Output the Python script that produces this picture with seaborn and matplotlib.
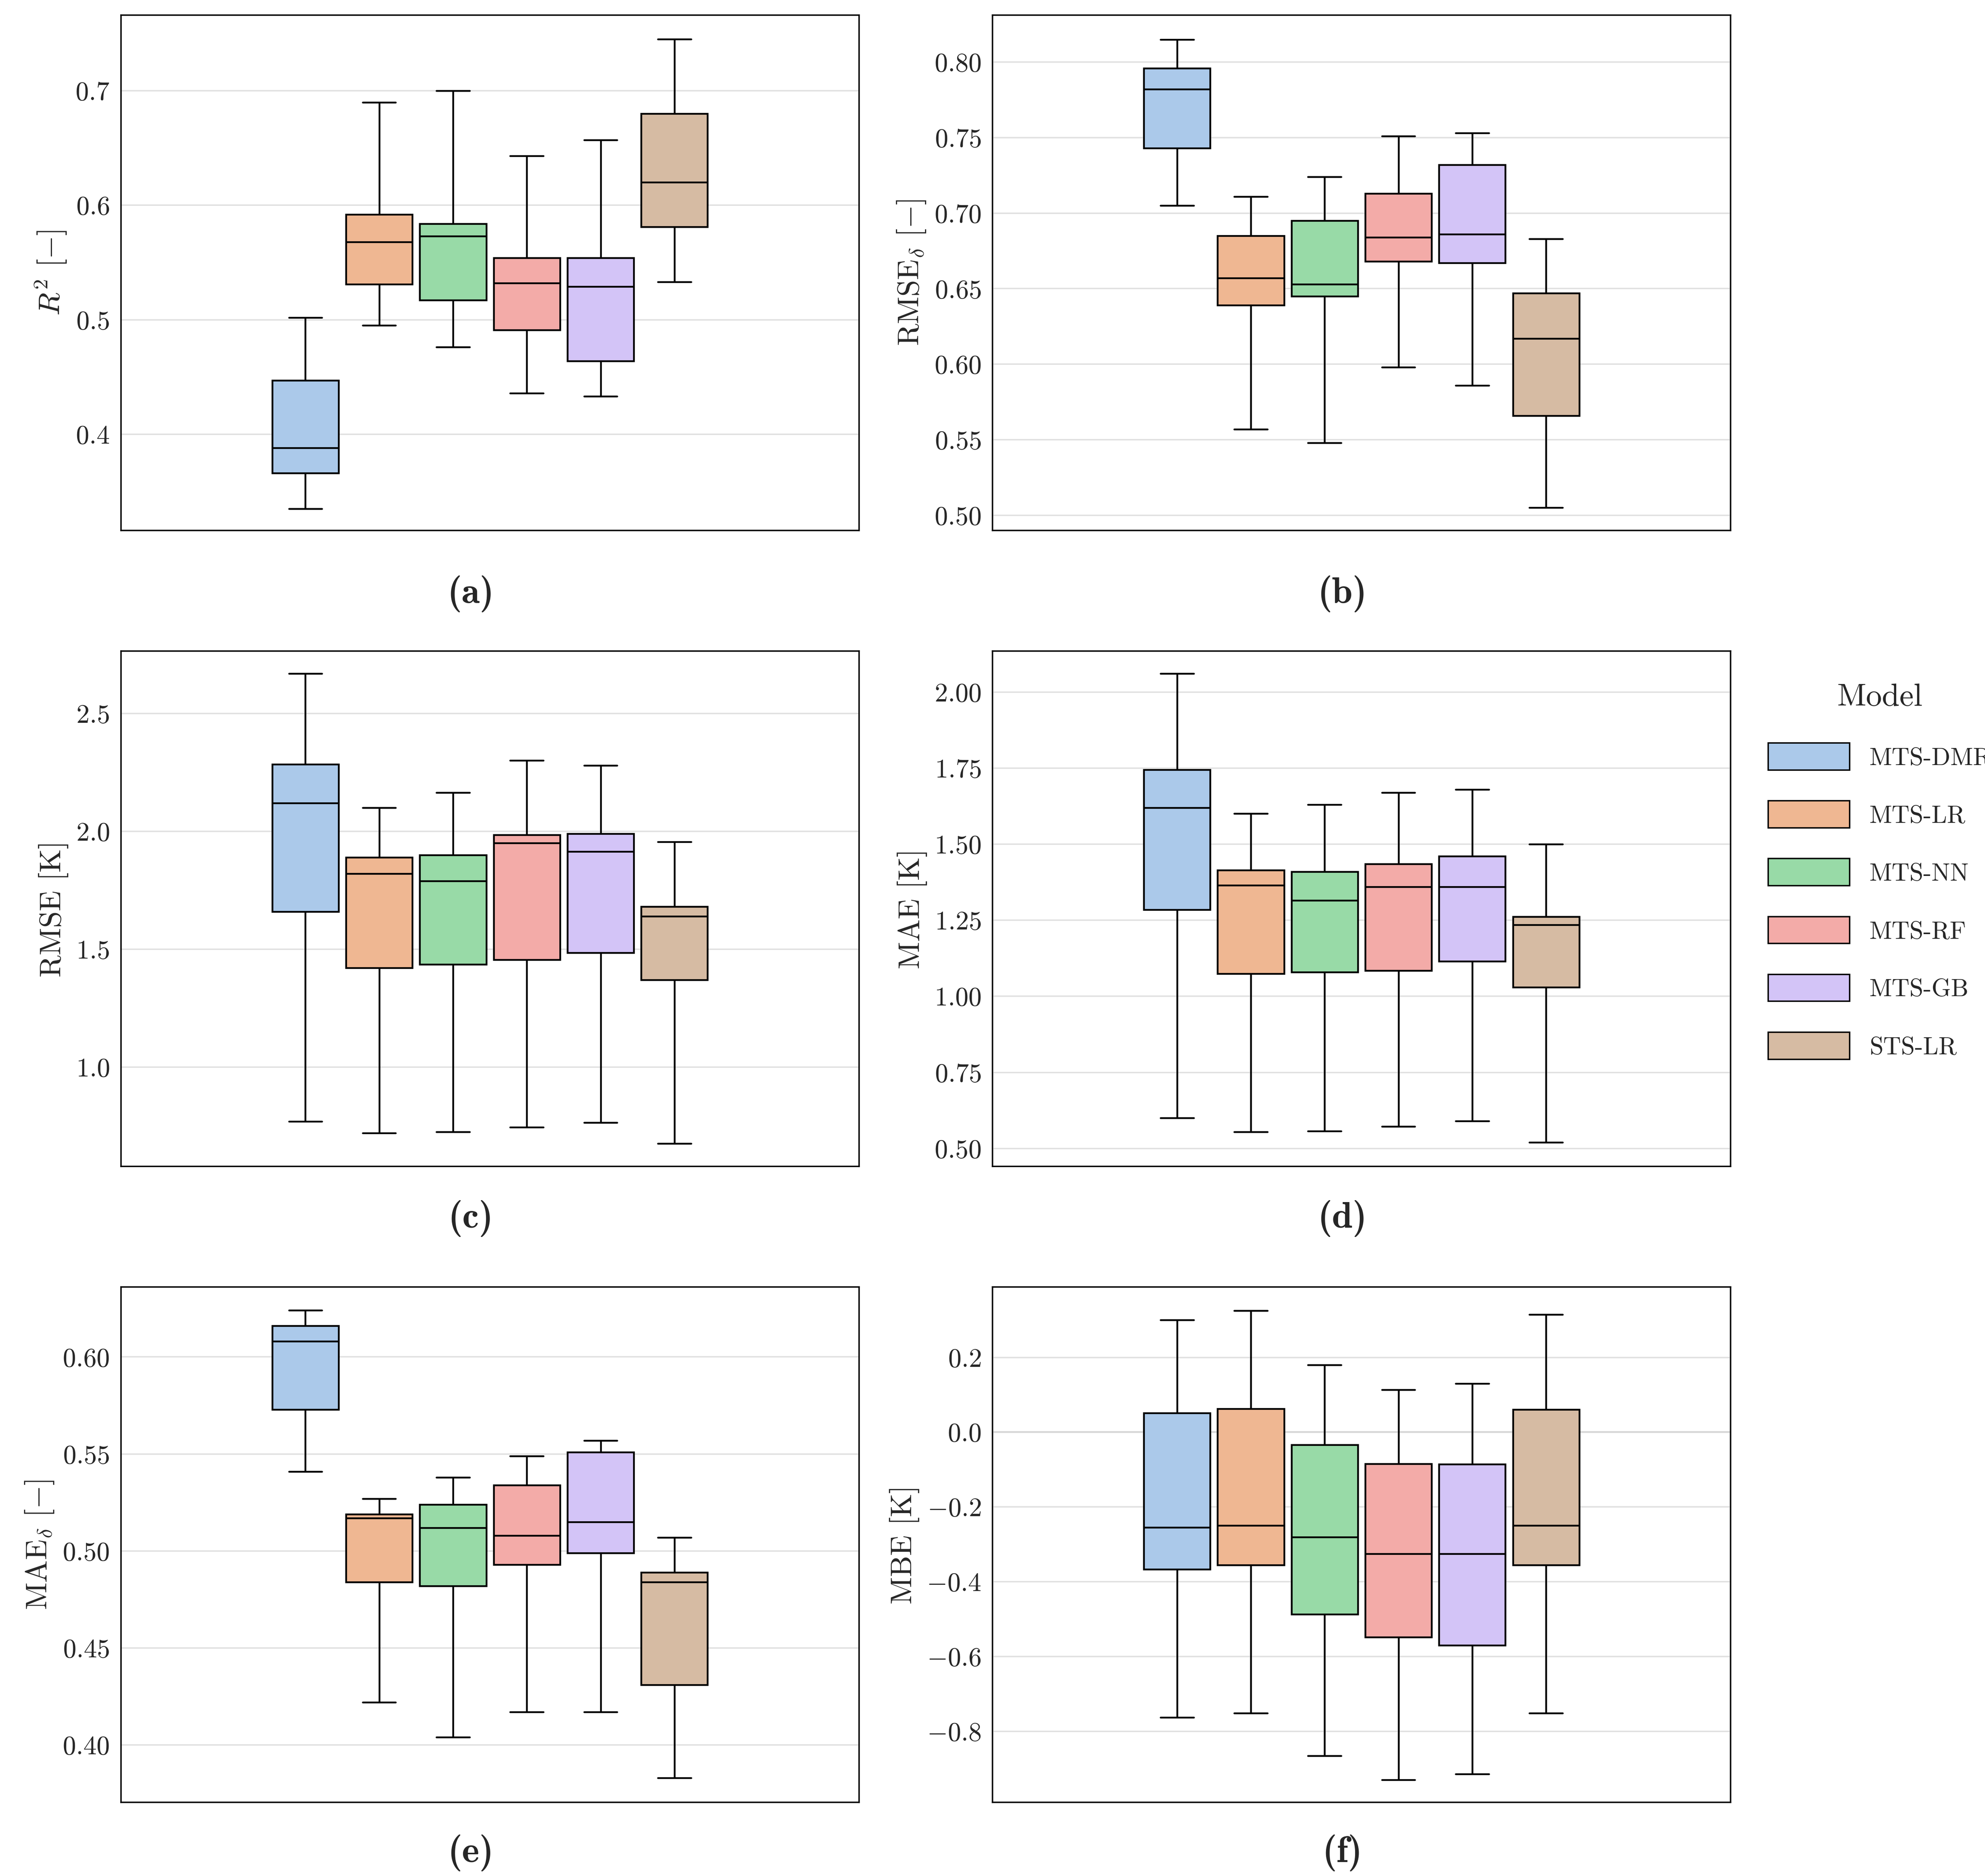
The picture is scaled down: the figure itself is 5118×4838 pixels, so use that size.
import matplotlib
matplotlib.use("Agg")
import matplotlib.pyplot as plt
import matplotlib.patches as mpatches
from matplotlib.ticker import MultipleLocator
import seaborn as sns
import pandas as pd

models = ["MTS-DMR", "MTS-LR", "MTS-NN", "MTS-RF", "MTS-GB", "STS-LR"]

# five-number summaries per model: min, q1, median, q3, max
r2 = [[.335, .366, .388, .447, .502], [.495, .531, .568, .592, .690],
      [.476, .517, .573, .584, .700], [.436, .491, .532, .554, .643],
      [.433, .464, .529, .554, .657], [.533, .581, .620, .680, .745]]
rmse_d = [[.705, .743, .782, .796, .815], [.557, .639, .657, .685, .711],
          [.548, .645, .653, .695, .724], [.598, .668, .684, .713, .751],
          [.586, .667, .686, .732, .753], [.505, .566, .617, .647, .683]]
rmse = [[.77, 1.66, 2.12, 2.285, 2.67], [.72, 1.42, 1.82, 1.89, 2.10],
        [.725, 1.435, 1.79, 1.90, 2.165], [.745, 1.455, 1.95, 1.985, 2.30],
        [.765, 1.485, 1.915, 1.99, 2.28], [.675, 1.37, 1.64, 1.68, 1.955]]
mae = [[.60, 1.285, 1.62, 1.745, 2.06], [.555, 1.075, 1.365, 1.415, 1.60],
       [.557, 1.08, 1.315, 1.41, 1.63], [.573, 1.085, 1.36, 1.435, 1.67],
       [.59, 1.115, 1.36, 1.46, 1.68], [.52, 1.03, 1.235, 1.262, 1.50]]
mae_d = [[.541, .573, .608, .616, .624], [.422, .484, .517, .519, .527],
         [.404, .482, .512, .524, .538], [.417, .493, .508, .534, .549],
         [.417, .499, .515, .551, .557], [.383, .431, .484, .489, .507]]
mbe = [[-.763, -.367, -.255, .051, .30], [-.752, -.355, -.250, .063, .325],
       [-.866, -.487, -.281, -.034, .180], [-.93, -.548, -.325, -.085, .113],
       [-.915, -.57, -.325, -.086, .130], [-.752, -.355, -.250, .061, .315]]

panels = [
    (r2, "$R^2$ [$-$]", (0.316, 0.766), 0.1, "(a)"),
    (rmse_d, r"RMSE$_\delta$ [$-$]", (0.490, 0.831), 0.05, "(b)"),
    (rmse, "RMSE [K]", (0.579, 2.764), 0.5, "(c)"),
    (mae, "MAE [K]", (0.4415, 2.134), 0.25, "(d)"),
    (mae_d, r"MAE$_\delta$ [$-$]", (0.3705, 0.636), 0.05, "(e)"),
    (mbe, "MBE [K]", (-0.990, 0.388), 0.2, "(f)"),
]

sns.set_style("white")
plt.rcParams["font.family"] = ["cmr10", "DejaVu Serif"]
plt.rcParams["mathtext.fontset"] = "cm"
plt.rcParams["axes.formatter.use_mathtext"] = True

palette = sns.color_palette("pastel", 6)
W, H = 5118 / 328, 4838 / 328
fig = plt.figure(figsize=(W, H), dpi=328)

lefts = [95, 780]
tops = [12, 512, 1012]
for i, (vals, ylabel, ylim, step, tag) in enumerate(panels):
    r, c = divmod(i, 2)
    x0 = lefts[c] / 1560
    y0 = 1 - (tops[r] + 405) / 1475
    ax = fig.add_axes([x0, y0, 580 / 1560, 405 / 1475])
    rows = []
    for m, v in zip(models, vals):
        for x in v:
            rows.append({"g": "all", "Model": m, "val": x})
    df = pd.DataFrame(rows)
    sns.boxplot(data=df, x="g", y="val", hue="Model", hue_order=models,
                palette=palette, whis=(0, 100), width=0.6, gap=0.1,
                linecolor="black", linewidth=1.0, saturation=0.75,
                legend=False, ax=ax)
    ax.set_xlim(-0.5, 0.5)
    ax.set_ylim(*ylim)
    ax.yaxis.set_major_locator(MultipleLocator(step))
    ax.set_xticks([])
    ax.set_xlabel("")
    ax.set_ylabel(ylabel, fontsize=17)
    ax.tick_params(axis="y", labelsize=15, length=3)
    ax.grid(axis="y", color="#e0e0e0", linewidth=0.8)
    ax.set_axisbelow(True)
    for s in ax.spines.values():
        s.set_color("black")
        s.set_linewidth(0.8)
    if tag == "(f)":
        ax.axhline(0, color="#555555", linewidth=0.9, zorder=0.5)
    ty = [455, 446, 445][r]
    fig.text(x0 + 275 / 1560, 1 - (tops[r] + ty) / 1475, tag,
             ha="center", va="center", fontsize=21, family="cmb10")

handles = [mpatches.Patch(facecolor=sns.desaturate(palette[k], 0.75),
                          edgecolor="black", linewidth=0.8, label=m)
           for k, m in enumerate(models)]
fig.legend(handles=handles, title="Model", loc="upper left",
           bbox_to_anchor=(1372 / 1560, 1 - 520 / 1475), frameon=False,
           fontsize=14, title_fontsize=18, handlelength=3.3, handleheight=1.3,
           labelspacing=1.25)

fig.savefig("out.png", dpi=328)
